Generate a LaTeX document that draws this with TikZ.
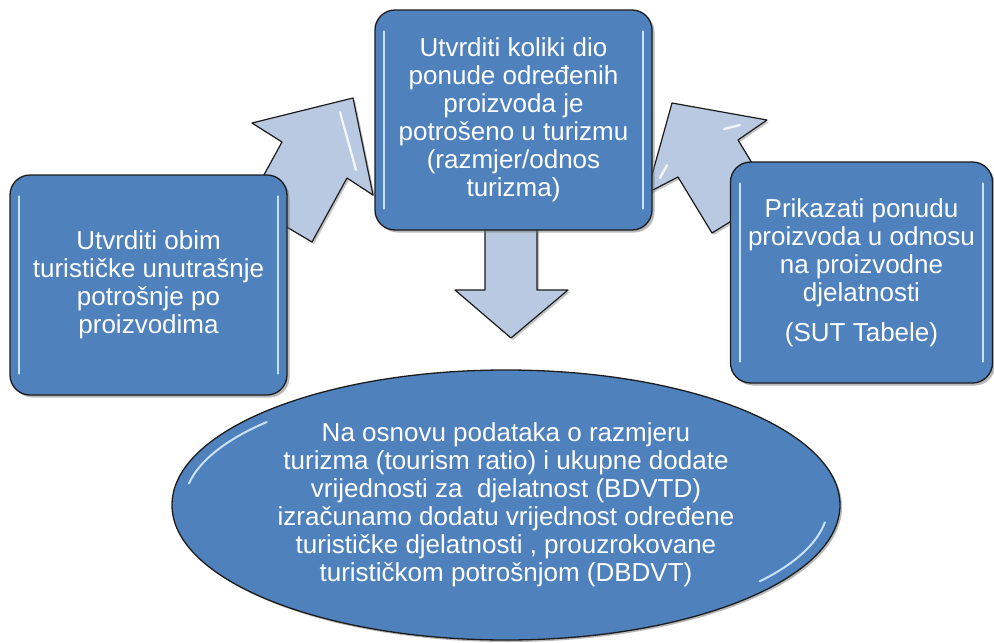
\documentclass[tikz,border=0pt]{standalone}
\usepackage{fontspec}
\setmainfont{Liberation Sans}
\usetikzlibrary{shapes.geometric,shadows,calc}
\definecolor{boxblue}{HTML}{4F81BD}
\definecolor{arrowfill}{HTML}{B9C9E1}
\definecolor{edgecol}{HTML}{1C1C1C}
\definecolor{hilite}{HTML}{C9E0F7}
\begin{document}
\begin{tikzpicture}[x=1pt,y=-1pt,
  bluebox/.style={draw=edgecol, line width=1.3pt, fill=boxblue, rounded corners=20pt,
    text=white, align=center, inner sep=0pt, font=\fontsize{26}{28}\selectfont,
    drop shadow={shadow xshift=2.5pt,shadow yshift=-2.5pt,fill=black!55}},
  blueellipse/.style={ellipse, draw=edgecol, line width=1.3pt, fill=boxblue,
    text=white, align=center, inner sep=0pt, font=\fontsize{26}{28}\selectfont,
    drop shadow={shadow xshift=2pt,shadow yshift=-2pt,fill=black!55}},
  blockarrow/.style={draw=edgecol, line width=1.2pt, fill=arrowfill, line join=round,
    drop shadow={shadow xshift=2pt,shadow yshift=-2pt,fill=black!45}},
  hl/.style={draw=hilite, line width=2pt, line cap=round},
  arrowhl/.style={draw=white, line width=2.2pt, line cap=round, opacity=0.85}]
\useasboundingbox (0,0) rectangle (994,643);

% block arrows (behind the boxes)
\path[blockarrow] (353,98) -- (373,195) -- (347,178) -- (312,242) -- (248,204)
   -- (282,142) -- (252,123) -- cycle;
\draw[arrowhl] (340,112) -- (356,170);
\path[blockarrow] (672,103) -- (767,120) -- (738,140) -- (772,196) -- (712,233)
   -- (678,177) -- (647,193) -- cycle;
\draw[arrowhl] (724,129) -- (740,125);
\draw[arrowhl] (667,165) -- (660,178);
\path[blockarrow] (485,225) -- (485,290) -- (455,290) -- (511,338) -- (568,290)
   -- (537,290) -- (537,225) -- cycle;

% ellipse
\node[blueellipse, minimum width=668pt, minimum height=270pt] (E) at (506,505)
  {Na osnovu podataka o razmjeru\\
   turizma (tourism ratio) i ukupne dodate\\
   vrijednosti za~~djelatnost (BDVTD)\\
   izračunamo dodatu vrijednost određene\\
   turističke djelatnosti , prouzrokovane\\
   turističkom potrošnjom (DBDVT)};

% boxes
\node[bluebox, minimum width=277pt, minimum height=220pt] (L) at (148.5,285)
  {Utvrditi obim\\ turističke unutrašnje\\ potrošnje po\\ proizvodima};
\node[bluebox, minimum width=277pt, minimum height=220pt] (C) at (513.5,120)
  {Utvrditi koliki dio\\ ponude određenih\\ proizvoda je\\ potrošeno u turizmu\\ (razmjer/odnos\\ turizma)};
\node[bluebox, minimum width=262pt, minimum height=221pt] (R) at (861.5,272.5)
  {Prikazati ponudu\\ proizvoda u odnosu\\ na proizvodne\\ djelatnosti\\[12pt] (SUT Tabele)};

% glossy highlights
\foreach \n in {L,C,R}{
  \draw[hl] ($(\n.north west)+(10,22)$) -- ($(\n.south west)+(10,-22)$);
  \draw[hl] ($(\n.north east)+(-10,22)$) -- ($(\n.south east)+(-10,-22)$);
}
\draw[hl] ($(E.center)+({322*cos(190)},{124*sin(190)})$)
   arc[start angle=190, end angle=222, x radius=322, y radius=124];
\draw[hl] ($(E.center)+({322*cos(8)},{124*sin(8)})$)
   arc[start angle=8, end angle=38, x radius=322, y radius=124];
\end{tikzpicture}
\end{document}
